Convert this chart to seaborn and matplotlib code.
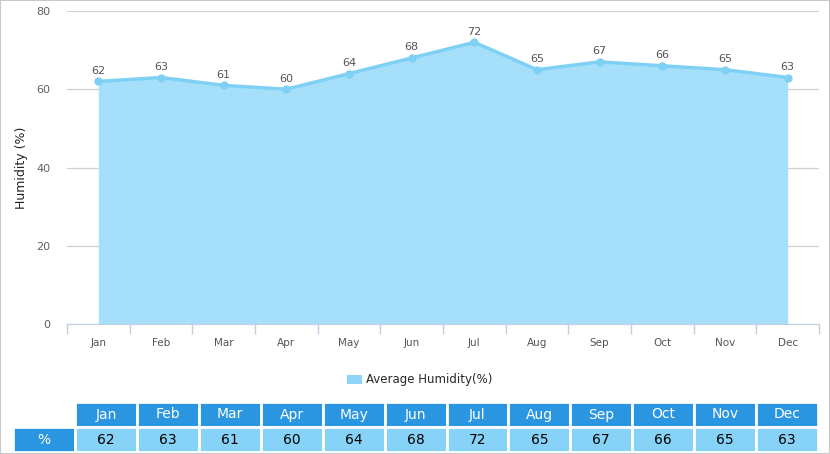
import numpy as np
import pandas as pd
import matplotlib
matplotlib.use('Agg')
import matplotlib.pyplot as plt
import seaborn as sns
from matplotlib.patches import Rectangle, Patch

# data
months = ['Jan', 'Feb', 'Mar', 'Apr', 'May', 'Jun', 'Jul', 'Aug', 'Sep', 'Oct', 'Nov', 'Dec']
humidity = [62, 63, 61, 60, 64, 68, 72, 65, 67, 66, 65, 63]
row_label = '%'
series_name = 'Average Humidity(%)'

df = pd.DataFrame({'month': months, 'humidity': humidity})
df['pos'] = np.arange(len(months))

sns.set_style('white')
plt.rcParams['font.family'] = ['DejaVu Sans']

W, H = 830, 454
fig = plt.figure(figsize=(W / 100, H / 100), dpi=100)

# main chart area
ax = fig.add_axes([67 / W, (H - 324) / H, (819 - 67) / W, (324 - 11) / H])
fill_col = '#a6dff9'
line_col = '#7fd0f5'
ax.fill_between(df['pos'], 0, df['humidity'], color=fill_col, lw=0, zorder=1)
sns.lineplot(data=df, x='pos', y='humidity', ax=ax, color=line_col, lw=2.5,
             marker='o', markersize=6, markeredgewidth=0, zorder=3)
for x, y in zip(df['pos'], df['humidity']):
    ax.annotate(str(y), (x, y), xytext=(0, 4), textcoords='offset points',
                ha='center', va='bottom', fontsize=8, color='#555555')

ax.set_xlim(-0.5, len(months) - 0.5)
ax.set_ylim(0, 80)
ax.set_yticks([0, 20, 40, 60, 80])
ax.yaxis.grid(True, color='#d0d0d0', lw=0.9)
ax.set_axisbelow(True)
ax.tick_params(axis='y', length=0, labelsize=8, labelcolor='#606060', pad=12)
ax.set_xticks(df['pos'])
ax.set_xticklabels(months, fontsize=7.5, color='#555555')
ax.set_xticks(np.arange(-0.5, len(months)), minor=True)
ax.tick_params(axis='x', which='major', bottom=False, length=0, pad=10)
ax.tick_params(axis='x', which='minor', bottom=True, length=7, color='#c0d0e0', width=1)
ax.set_xlabel('')
ax.set_ylabel('Humidity (%)', fontsize=9, color='#222222')
ax.yaxis.set_label_coords((28 - 67) / (819 - 67), 0.5)
for s in ['top', 'right', 'left']:
    ax.spines[s].set_visible(False)
ax.spines['bottom'].set_color('#c0d0e0')

# legend
fig.legend(handles=[Patch(facecolor='#8dd4f7', edgecolor='none', label=series_name)],
           loc='center', bbox_to_anchor=(420 / W, (H - 380) / H), frameon=False,
           fontsize=8.5, handlelength=1.2, handleheight=0.9, handletextpad=0.4)

# data table below
tax = fig.add_axes([13 / W, (H - 452) / H, (818 - 13) / W, (452 - 402) / H])
tax.axis('off')
cell_text = [[''] + months, [row_label] + [str(v) for v in humidity]]
first_w = 62
month_w = (818 - 13 - first_w) / len(months)
widths = [first_w / (818 - 13)] + [month_w / (818 - 13)] * len(months)
tbl = tax.table(cellText=cell_text, colWidths=widths, loc='center', bbox=[0, 0, 1, 1],
                cellLoc='center')
tbl.auto_set_font_size(False)
for (r, c), cell in tbl.get_celld().items():
    cell.set_edgecolor('white')
    cell.set_linewidth(2)
    txt = cell.get_text()
    txt.set_fontsize(10)
    if r == 0 and c == 0:
        cell.set_facecolor('white')
    elif r == 0 or c == 0:
        cell.set_facecolor('#2a96e2')
        txt.set_color('white')
    else:
        cell.set_facecolor('#87d3f8')
        txt.set_color('black')

# thin outer frame
fig.patches.append(Rectangle((0, 0), 1, 1, transform=fig.transFigure, fill=False,
                             edgecolor='#c8c8c8', lw=1.5))

fig.savefig('out.png', dpi=100)
